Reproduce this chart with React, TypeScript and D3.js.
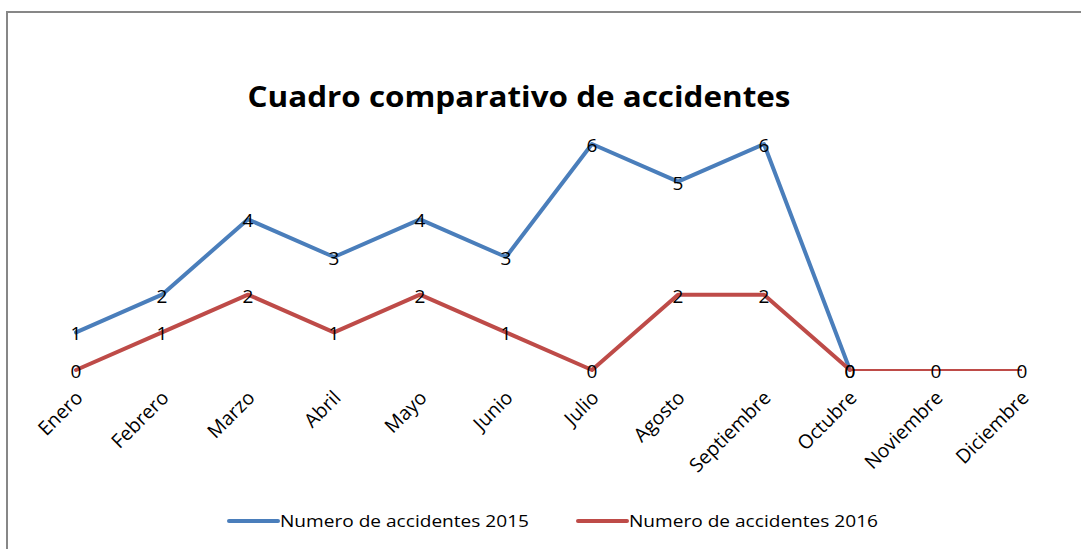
import React from "react";
import * as d3 from "d3";

const months = ["Enero","Febrero","Marzo","Abril","Mayo","Junio","Julio","Agosto","Septiembre","Octubre","Noviembre","Diciembre"];
const s2015: (number | null)[] = [1,2,4,3,4,3,6,5,6,0,null,null];
const s2016: number[] = [0,1,2,1,2,1,0,2,2,0,0,0];
const seriesNames = ["Numero de accidentes 2015","Numero de accidentes 2016"];
const colors = ["#4A7EBB","#BE4B48"];
const title = "Cuadro comparativo de accidentes";

const FONT = "'Open Sans', Lato, sans-serif";

export default function App() {
  const W = 1081, H = 549;
  const x = d3.scalePoint<string>().domain(months).range([76, 1022]);
  const y = d3.scaleLinear().domain([0, 6]).range([370, 144]);

  const line = d3.line<[string, number | null]>()
    .defined(d => d[1] !== null)
    .x(d => x(d[0])!)
    .y(d => y(d[1] as number));

  const p2015 = line(months.map((m, i) => [m, s2015[i]]));
  const redThick = line(months.map((m, i) => [m, i <= 9 ? s2016[i] : null]));
  const redThin = line(months.map((m, i) => [m, i >= 9 ? s2016[i] : null]));

  const labels: { x: number; y: number; t: string }[] = [];
  months.forEach((m, i) => {
    if (s2015[i] !== null) labels.push({ x: x(m)!, y: y(s2015[i] as number), t: String(s2015[i]) });
    labels.push({ x: x(m)!, y: y(s2016[i]), t: String(s2016[i]) });
  });

  return (
    <svg width={W} height={H} style={{ position: "absolute", left: 0, top: 0, background: "#fff" }}>
      <rect x={0} y={0} width={W} height={H} fill="#fff" />
      <rect x={7} y={12} width={W + 10} height={H + 10} fill="none" stroke="#878787" strokeWidth={2} />
      <text x={519} y={107} textAnchor="middle" fontFamily={FONT} fontWeight="bold" fontSize={29} fill="#000" textLength={543} lengthAdjust="spacingAndGlyphs">{title}</text>
      <path d={p2015 || ""} fill="none" stroke={colors[0]} strokeWidth={4} strokeLinejoin="round" strokeLinecap="round" />
      <path d={redThick || ""} fill="none" stroke={colors[1]} strokeWidth={4} strokeLinejoin="round" strokeLinecap="round" />
      <path d={redThin || ""} fill="none" stroke={colors[1]} strokeWidth={2} />
      {labels.map((l, i) => (
        <text key={i} x={l.x} y={l.y + 1} textAnchor="middle" dominantBaseline="central" fontFamily={FONT} fontSize={19} fill="#000">{l.t}</text>
      ))}
      {months.map(m => (
        <text key={m} transform={`translate(${x(m)! + 8},${399}) rotate(-45)`} textAnchor="end" fontFamily={FONT} fontSize={19.5} fill="#000">{m}</text>
      ))}
      {seriesNames.map((n, i) => {
        const lx = i === 0 ? 229 : 578;
        return (
          <g key={n}>
            <line x1={lx} x2={lx + 49} y1={521} y2={521} stroke={colors[i]} strokeWidth={4} strokeLinecap="round" />
            <text x={lx + 51} y={527} fontFamily={FONT} fontSize={17} fill="#000" textLength={249} lengthAdjust="spacingAndGlyphs">{n}</text>
          </g>
        );
      })}
    </svg>
  );
}
